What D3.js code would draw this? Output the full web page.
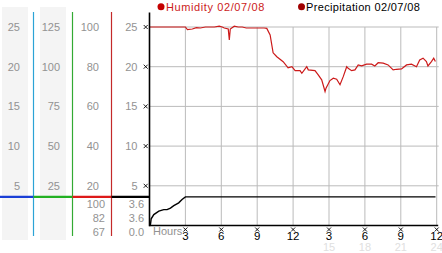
<!DOCTYPE html>
<html><head><meta charset="utf-8">
<script src="https://cdn.jsdelivr.net/npm/d3@7"></script>
<style>
html,body{margin:0;padding:0;background:#fff;}
svg{display:block;}
text{font-family:"Liberation Sans",Arial,sans-serif;}
</style></head>
<body><svg id="c" width="442" height="253"></svg>
<script>
// ---- data ----
const humHours = [0,3.0,3.17,3.58,3.92,4.25,4.67,5.42,5.83,6.08,6.25,6.58,6.67,6.75,7.08,7.42,7.75,8.08,9.08,9.58,9.8,10.08,10.33,10.64,11.17,11.58,11.9,12.17,12.58,12.73,13.14,13.27,13.83,14.1,14.39,14.67,14.75,15.08,15.36,15.64,15.92,16.19,16.48,16.6,16.89,17.17,17.44,17.73,18.14,18.56,18.83,19.11,19.53,19.94,20.36,20.64,21.06,21.48,21.89,22.31,22.58,22.86,23.14,23.27,23.56,23.75,23.89];
const humidity = [100,100,98.7,99,99.7,99.5,100,100,100.4,100,99.5,99,93.5,99,100.4,100,100,99.5,99.5,99.5,99.3,96,87,85,82.5,79.4,80,78,78,76.7,80,78.4,78,75.9,73.4,67.5,69.2,73,74.2,73.7,70.9,75,80,79.2,78,78.4,80.9,80.4,81.3,81.3,80.4,82,81.8,80.9,78.4,78.7,78.9,80.9,81.3,80,83.4,84.3,82.6,80.4,82.6,84.3,82.6];
const precipHours = [0,0.08,0.14,0.36,0.78,1.19,1.47,1.75,2.03,2.44,2.72,3.0,23.9];
const precipitation = [0,0.13,0.84,1.38,1.8,2.0,2.0,2.2,2.5,2.85,3.27,3.6,3.6];
const col1Ticks = [25,20,15,10,5];
const col2Ticks = [125,100,75,50,25];
const col3Ticks = [100,80,60,40,20];
const col4Ticks = [25,20,15,10,5];
const humStats = ["100","82","67"];
const precipStats = ["3.6","3.6","0.0"];
const xTickHours = [3,6,9,12,15,18,21,24];
const xTickLabels = ["3","6","9","12","3","6","9","12"];
const xSubHours = [15,18,21,24];
const xSubLabels = ["15","18","21","24"];
const legendNames = ["Humidity 02/07/08","Precipitation 02/07/08"];
const markerLevel = 3.6;

// ---- layout ----
const svg = d3.select("#c");
const X0 = 149.5, X1 = 436.7, Y0 = 225.5, YTOP = 27;
const x = d3.scaleLinear().domain([0,24]).range([X0,X1]);
const y = d3.scaleLinear().domain([0,25]).range([Y0,YTOP]);
const yHum = d3.scaleLinear().domain([0,100]).range([Y0,YTOP]);
const y1 = d3.scaleLinear().domain([0,25]).range([Y0,YTOP]);
const y2 = d3.scaleLinear().domain([0,125]).range([Y0,YTOP]);
const y3 = d3.scaleLinear().domain([0,100]).range([Y0,YTOP]);
const y4 = d3.scaleLinear().domain([0,25]).range([Y0,YTOP]);

// gray column backgrounds
svg.append("rect").attr("x",2).attr("y",7).attr("width",26).attr("height",233).attr("fill","#f4f4f4");
svg.append("rect").attr("x",40).attr("y",7).attr("width",26).attr("height",233).attr("fill","#f4f4f4");

// column axes
function colAxis(scale, ticks, xpos){
  const g = svg.append("g").attr("transform",`translate(${xpos},0)`)
    .call(d3.axisLeft(scale).tickValues(ticks).tickSize(0).tickPadding(0));
  g.select(".domain").remove();
  g.selectAll("text").attr("fill","#929292").attr("font-size","11px")
    .attr("font-family","'Liberation Sans',Arial,sans-serif");
}
colAxis(y1,col1Ticks,20);
colAxis(y2,col2Ticks,60);
colAxis(y3,col3Ticks,99);
colAxis(y4,col4Ticks,137.5);

// vertical colored separators
[[33.5,"#2ba3d6"],[72.5,"#33aa33"],[111.5,"#c42a2a"]].forEach(([xx,c])=>{
  svg.append("line").attr("x1",xx).attr("x2",xx).attr("y1",12).attr("y2",236)
    .attr("stroke",c).attr("stroke-width",1.2);
});

// grid
svg.append("g").selectAll("line").data(col4Ticks).join("line")
  .attr("x1",X0).attr("x2",X1+2).attr("y1",d=>y(d)).attr("y2",d=>y(d))
  .attr("stroke","#bbbbbb").attr("stroke-width",1);
svg.append("g").selectAll("line").data(xTickHours).join("line")
  .attr("x1",d=>x(d)).attr("x2",d=>x(d)).attr("y1",YTOP).attr("y2",Y0)
  .attr("stroke","#bbbbbb").attr("stroke-width",1);

// colored level markers
const ly = y(markerLevel);
[[0,33.5,"#1a3fd6"],[33.5,72.5,"#22b022"],[72.5,111.5,"#dd1a1a"],[111.5,X0,"#000"]].forEach(([a,b,c])=>{
  svg.append("line").attr("x1",a).attr("x2",b).attr("y1",ly).attr("y2",ly)
    .attr("stroke",c).attr("stroke-width",2.4);
});

// stats
svg.append("g").selectAll("text").data(humStats).join("text")
  .attr("x",105).attr("y",(d,i)=>208+i*14.2).attr("text-anchor","end")
  .attr("fill","#929292").attr("font-size","11px").text(d=>d);
svg.append("g").selectAll("text").data(precipStats).join("text")
  .attr("x",144).attr("y",(d,i)=>208+i*14.2).attr("text-anchor","end")
  .attr("fill","#929292").attr("font-size","11px").text(d=>d);

// tick marks (small reference marks)
function mark(g){
  g.append("path").attr("d","M-2,-2L2,2M2,-2L-2,2").attr("stroke","#000").attr("stroke-width",0.9).attr("fill","none");
}
svg.append("g").selectAll("g").data(col4Ticks).join("g")
  .attr("transform",d=>`translate(145.7,${y(d)})`).each(function(){mark(d3.select(this));});
svg.append("g").selectAll("g").data(xTickHours).join("g")
  .attr("transform",d=>`translate(${x(d)},229.5)`).each(function(){mark(d3.select(this));});

// lines
const humLine = d3.line().x((d,i)=>x(humHours[i])).y(d=>yHum(d));
svg.append("path").datum(humidity).attr("d",humLine).attr("fill","none")
  .attr("stroke","#cc1a1a").attr("stroke-width",1.2);
const precLine = d3.line().x((d,i)=>x(precipHours[i])).y(d=>y(d));
svg.append("path").datum(precipitation).attr("d",precLine).attr("fill","none")
  .attr("stroke","#000").attr("stroke-width",1.4);

// axes lines
svg.append("line").attr("x1",X0).attr("x2",X0).attr("y1",12.5).attr("y2",Y0+0.8).attr("stroke","#000").attr("stroke-width",1.6);
svg.append("line").attr("x1",X0).attr("x2",X1+1.5).attr("y1",Y0).attr("y2",Y0).attr("stroke","#000").attr("stroke-width",1.5);

// x labels
svg.append("text").attr("x",153).attr("y",234.5).attr("fill","#929292").attr("font-size","11px").text("Hours");
svg.append("g").selectAll("text").data(xTickHours).join("text")
  .attr("x",d=>x(d)).attr("y",239.5).attr("text-anchor","middle").attr("fill","#000")
  .attr("font-size","11.5px").text((d,i)=>xTickLabels[i]);
svg.append("g").selectAll("text").data(xSubHours).join("text")
  .attr("x",d=>x(d)).attr("y",251).attr("text-anchor","middle").attr("fill","#e0e0e0")
  .attr("font-size","11px").text((d,i)=>xSubLabels[i]);

// legend
svg.append("circle").attr("cx",161).attr("cy",6.8).attr("r",3.5).attr("fill","#c40000");
svg.append("text").attr("x",166).attr("y",10.8).attr("fill","#cc1a1a").attr("font-size","11px")
  .attr("letter-spacing","0.6px").text(legendNames[0]);
svg.append("circle").attr("cx",301.5).attr("cy",6.8).attr("r",3.5).attr("fill","#a00000");
svg.append("text").attr("x",306).attr("y",10.8).attr("fill","#000").attr("font-size","11px")
  .attr("letter-spacing","0.35px").text(legendNames[1]);
</script></body></html>
